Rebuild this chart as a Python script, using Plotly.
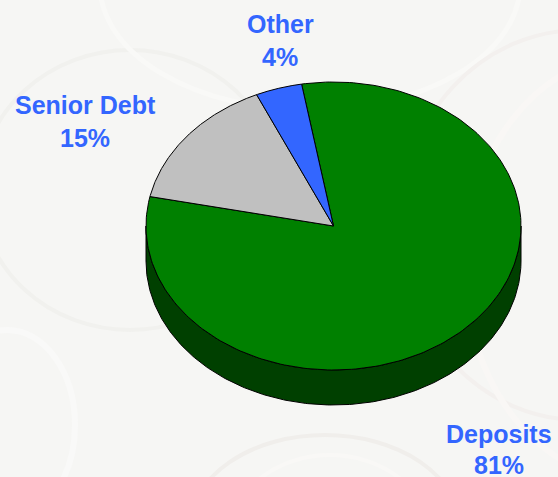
import numpy as np
import plotly.graph_objects as go

categories = ["Deposits", "Senior Debt", "Other"]
shares = [81, 15, 4]
slice_colors = ["#008000", "#C0C0C0", "#3366FF"]
wall_color = "#004000"
label_color = "#3366FF"
label_pos = [(499, 434, 465), (85, 105, 138), (280, 24, 57)]

W, H = 558, 477
CX, CY, RX, RY, DEPTH = 333.5, 226, 187.5, 144, 35
START_DEG = -9.8

def rim(t0, t1, n=240):
    t = np.radians(np.linspace(t0, t1, n))
    return CX + RX * np.sin(t), CY - RY * np.cos(t)

fig = go.Figure()

# side wall (front half of the rim, extruded downward)
xs, ys = rim(90, 270)
fig.add_trace(go.Scatter(
    x=np.r_[xs, xs[::-1], xs[0]], y=np.r_[ys, ys[::-1] + DEPTH, ys[0]],
    mode="lines", fill="toself", fillcolor=wall_color,
    line=dict(color="black", width=1), hoverinfo="skip", showlegend=False))

# top face, one polygon per share
angle = START_DEG
for name, share, color in zip(categories, shares, slice_colors):
    sweep = 360 * share / sum(shares)
    xs, ys = rim(angle, angle + sweep)
    fig.add_trace(go.Scatter(
        x=np.r_[CX, xs, CX], y=np.r_[CY, ys, CY],
        mode="lines", fill="toself", fillcolor=color, name=name,
        line=dict(color="black", width=1), showlegend=False,
        hovertemplate=f"{name}: {share}%<extra></extra>"))
    angle += sweep

# labels
annotations = []
for name, share, (lx, y1, y2) in zip(categories, shares, label_pos):
    for txt, ly in ((name, y1), (f"{share}%", y2)):
        annotations.append(dict(
            x=lx, y=ly, xref="x", yref="y", text=f"<b>{txt}</b>", showarrow=False,
            xanchor="center", yanchor="middle",
            font=dict(family="Liberation Sans", size=25, color=label_color)))

# faint coin texture behind the chart
coin_rings = [
    (-20, 50, 280, 330, "#F1F1EE", 4),
    (100, -140, 520, 110, "#F9F9F7", 5),
    (400, 30, 760, 420, "#F3F0EE", 4),
    (465, 55, 800, 480, "#F9F7F5", 6),
    (190, 435, 460, 620, "#F0EEEB", 4),
    (230, 455, 430, 620, "#F9F8F6", 4),
    (-60, 330, 75, 520, "#F9F9F8", 6),
]
shapes = [dict(type="circle", xref="x", yref="y", x0=a, y0=b, x1=c, y1=d,
               line=dict(color=col, width=w), layer="below")
          for a, b, c, d, col, w in coin_rings]

fig.update_layout(
    width=W, height=H, margin=dict(l=0, r=0, t=0, b=0),
    paper_bgcolor="#F6F6F4", plot_bgcolor="#F6F6F4",
    xaxis=dict(range=[0, W], visible=False, fixedrange=True),
    yaxis=dict(range=[H, 0], visible=False, fixedrange=True),
    annotations=annotations, shapes=shapes, showlegend=False)

fig.write_html("out.html", config={"displayModeBar": False},
               post_script="document.body.style.margin='0';document.body.style.overflow='hidden';")
